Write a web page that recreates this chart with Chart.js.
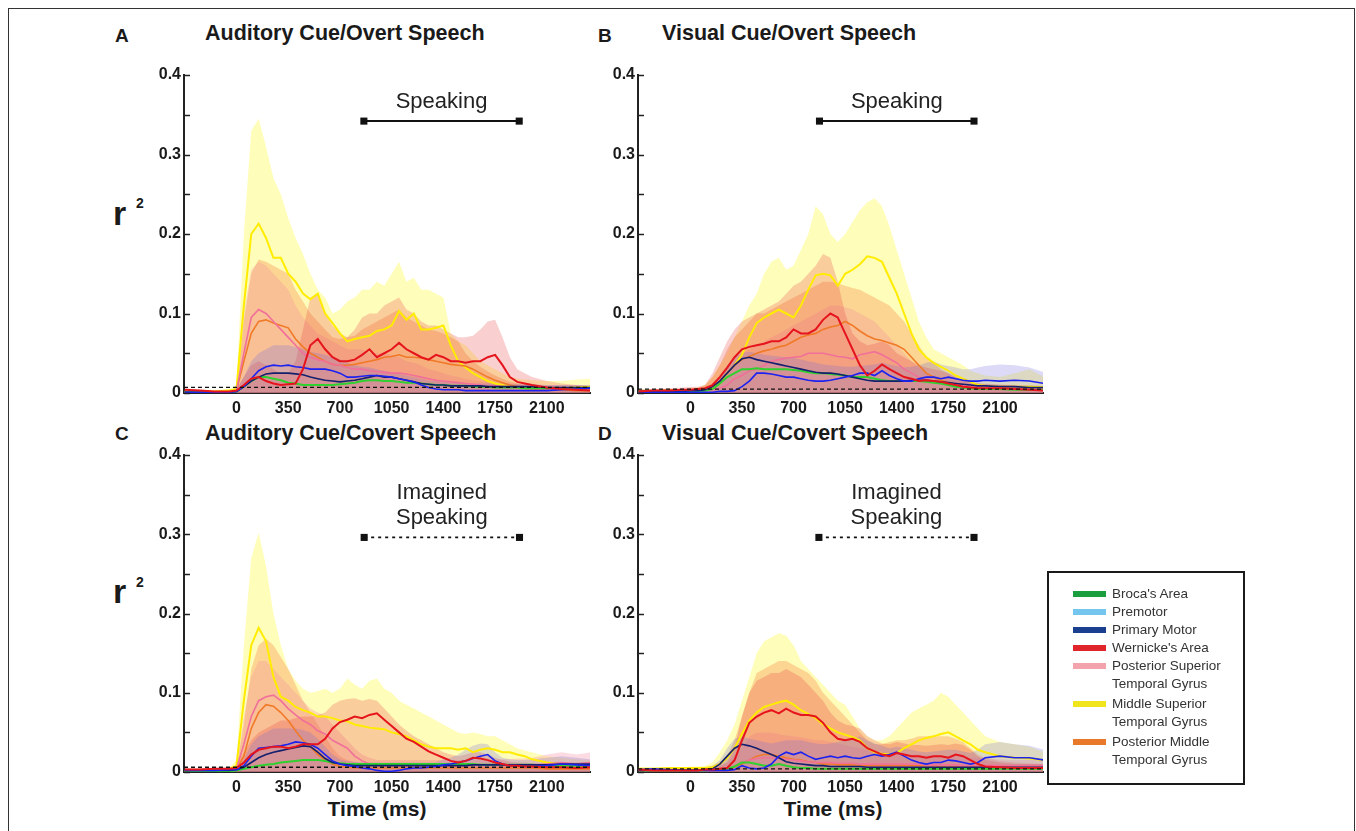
<!DOCTYPE html>
<html>
<head>
<meta charset="utf-8">
<script src="https://cdn.jsdelivr.net/npm/chart.js@4.4.0/dist/chart.umd.min.js"></script>
<style>
  html, body { margin: 0; padding: 0; background: #fff; }
  body { width: 1356px; height: 831px; position: relative; overflow: hidden;
         font-family: "Liberation Sans", Arial, sans-serif; color: #1a1a1a; }
  #frame { position: absolute; left: 8px; top: 8px; width: 1345px; height: 840px; border: 1px solid #333; }
  .txt { position: absolute; line-height: 1; white-space: nowrap; }
  .letter { font-weight: bold; font-size: 19px; }
  .title { font-weight: bold; font-size: 21.5px; }
  .rlab { font-weight: bold; font-size: 34px; }
  .rsup { font-weight: bold; font-size: 14px; }
  .xtitle { font-weight: bold; font-size: 21px; transform: translateX(-50%); }
  canvas { position: absolute; }
  #legend { position: absolute; left: 1047px; top: 571px; width: 194px; height: 198px;
            border: 2px solid #1a1a1a; padding-top: 12px; box-sizing: content-box; }
  .item { position: relative; padding-left: 63px; font-size: 13.5px; line-height: 18px; color: #333; margin-bottom: 0; }
  .item.multi { margin-bottom: 2px; }
  .sw { position: absolute; left: 24px; top: 6px; width: 33px; height: 6px; }
</style>
</head>
<body>
<div id="frame"></div>

<div class="txt letter" style="left:115px; top:26px;">A</div>
<div class="txt title" style="left:205px; top:23px;">Auditory Cue/Overt Speech</div>
<div class="txt letter" style="left:598px; top:26px;">B</div>
<div class="txt title" style="left:662px; top:23px;">Visual Cue/Overt Speech</div>
<div class="txt letter" style="left:115px; top:424px;">C</div>
<div class="txt title" style="left:205px; top:423px;">Auditory Cue/Covert Speech</div>
<div class="txt letter" style="left:598px; top:424px;">D</div>
<div class="txt title" style="left:662px; top:423px;">Visual Cue/Covert Speech</div>

<div class="txt rlab" style="left:113px; top:196px;">r</div>
<div class="txt rsup" style="left:136px; top:196px;">2</div>
<div class="txt rlab" style="left:113px; top:574px;">r</div>
<div class="txt rsup" style="left:136px; top:575px;">2</div>

<div class="txt xtitle" style="left:377px; top:798px;">Time (ms)</div>
<div class="txt xtitle" style="left:833px; top:798px;">Time (ms)</div>

<canvas id="cA" width="460" height="365" style="left:140px; top:60px;"></canvas>
<canvas id="cB" width="460" height="365" style="left:594px; top:60px;"></canvas>
<canvas id="cC" width="460" height="364" style="left:140px; top:440px;"></canvas>
<canvas id="cD" width="460" height="364" style="left:594px; top:440px;"></canvas>

<div id="legend"></div>

<script>
// time axis (ms) shared by all panels
const times = [-350,-250,-150,-50,
  0,50,100,150,200,250,300,350,400,450,
  500,550,600,650,700,750,800,850,900,950,
  1000,1050,1100,1150,1200,1250,1300,1350,1400,1450,
  1500,1550,1600,1650,1700,1750,1800,1850,1900,1950,
  2000,2100,2200,2300,2400];
const xTicks = [0, 350, 700, 1050, 1400, 1750, 2100];

const regionNames = ["Broca's Area", "Premotor", "Primary Motor", "Wernicke's Area",
  "Posterior Superior\nTemporal Gyrus", "Middle Superior\nTemporal Gyrus", "Posterior Middle\nTemporal Gyrus"];
const legendColors = ['#1b9e3e', '#74c6ee', '#1a3f8f', '#e0262a', '#f3a3ab', '#efe51a', '#e8782a'];

// ---- Panel A: auditory cue / overt speech ----
const aYellow = [0.002,0.002,0.002,0.003,
  0.005,0.11,0.2,0.213,0.195,0.17,0.17,0.15,0.14,0.125,
  0.118,0.125,0.1,0.088,0.075,0.065,0.068,0.07,0.072,0.078,
  0.08,0.085,0.103,0.092,0.1,0.08,0.08,0.082,0.085,0.06,
  0.04,0.032,0.025,0.02,0.015,0.012,0.01,0.008,0.007,0.006,
  0.006,0.005,0.006,0.007,0.008];
const aYellowHi = [0.004,0.004,0.004,0.005,
  0.01,0.2,0.33,0.345,0.31,0.27,0.25,0.22,0.195,0.175,
  0.15,0.13,0.12,0.1,0.105,0.115,0.12,0.13,0.13,0.14,
  0.135,0.15,0.165,0.14,0.145,0.13,0.13,0.125,0.12,0.075,
  0.065,0.06,0.05,0.04,0.035,0.03,0.025,0.02,0.018,0.017,
  0.016,0.015,0.015,0.017,0.018];
const aOrange = [0.001,0.001,0.001,0.001,
  0.003,0.04,0.075,0.09,0.092,0.088,0.085,0.082,0.068,0.058,
  0.05,0.045,0.04,0.036,0.035,0.035,0.036,0.038,0.04,0.042,
  0.045,0.046,0.048,0.045,0.045,0.044,0.042,0.04,0.038,0.036,
  0.035,0.034,0.03,0.025,0.02,0.016,0.013,0.01,0.008,0.006,
  0.005,0.004,0.004,0.003,0.003];
const aOrangeHi = [0.002,0.002,0.002,0.002,
  0.006,0.09,0.15,0.168,0.165,0.16,0.155,0.15,0.13,0.115,
  0.1,0.09,0.08,0.07,0.068,0.07,0.072,0.08,0.085,0.09,
  0.095,0.1,0.105,0.095,0.09,0.085,0.08,0.078,0.075,0.07,
  0.065,0.05,0.04,0.033,0.027,0.022,0.018,0.014,0.012,0.01,
  0.009,0.008,0.007,0.006,0.006];
const aPink = [0.001,0.001,0.001,0.001,
  0.003,0.05,0.095,0.105,0.1,0.09,0.08,0.07,0.06,0.05,
  0.045,0.042,0.04,0.036,0.035,0.032,0.03,0.03,0.028,0.027,
  0.026,0.025,0.025,0.024,0.022,0.02,0.018,0.016,0.015,0.014,
  0.013,0.012,0.011,0.01,0.009,0.009,0.008,0.008,0.007,0.006,
  0.006,0.005,0.005,0.005,0.005];
const aPinkHi = [0.002,0.002,0.002,0.002,
  0.008,0.1,0.155,0.165,0.16,0.15,0.14,0.13,0.11,0.095,
  0.085,0.075,0.07,0.065,0.06,0.055,0.055,0.055,0.05,0.05,
  0.05,0.048,0.045,0.04,0.038,0.035,0.03,0.028,0.025,0.022,
  0.02,0.018,0.016,0.015,0.014,0.013,0.012,0.012,0.011,0.011,
  0.01,0.01,0.01,0.01,0.01];
const aRed = [0.004,0.003,0.002,0.002,
  0.003,0.01,0.018,0.02,0.015,0.012,0.01,0.011,0.012,0.03,
  0.06,0.068,0.055,0.045,0.04,0.04,0.042,0.048,0.055,0.045,
  0.05,0.055,0.063,0.055,0.05,0.045,0.042,0.048,0.045,0.04,
  0.04,0.038,0.04,0.04,0.045,0.048,0.035,0.02,0.014,0.012,
  0.01,0.007,0.005,0.004,0.003];
const aRedHi = [0.006,0.004,0.003,0.003,
  0.005,0.02,0.035,0.04,0.035,0.03,0.025,0.025,0.04,0.08,
  0.12,0.125,0.1,0.085,0.075,0.07,0.08,0.095,0.1,0.1,
  0.11,0.115,0.12,0.105,0.1,0.09,0.085,0.085,0.08,0.075,
  0.07,0.07,0.072,0.08,0.09,0.092,0.07,0.045,0.03,0.025,
  0.02,0.015,0.012,0.01,0.008];
const aBlue = [0.001,0.001,0.001,0.001,
  0.002,0.008,0.018,0.028,0.033,0.035,0.034,0.035,0.033,0.032,
  0.03,0.03,0.03,0.028,0.025,0.02,0.02,0.021,0.022,0.022,
  0.021,0.02,0.018,0.016,0.014,0.01,0.007,0.005,0.004,0.004,
  0.004,0.003,0.003,0.003,0.003,0.003,0.003,0.003,0.003,0.003,
  0.003,0.003,0.004,0.005,0.006];
const aNavy = [0.001,0.001,0.001,0.001,
  0.002,0.008,0.015,0.02,0.024,0.025,0.025,0.025,0.024,0.023,
  0.02,0.018,0.016,0.015,0.014,0.015,0.016,0.018,0.02,0.022,
  0.02,0.02,0.018,0.016,0.014,0.012,0.011,0.01,0.01,0.009,
  0.009,0.009,0.009,0.009,0.008,0.008,0.008,0.008,0.008,0.008,
  0.008,0.007,0.007,0.007,0.007];
const aGreen = [0.001,0.001,0.001,0.001,
  0.002,0.008,0.015,0.02,0.02,0.018,0.016,0.013,0.012,0.01,
  0.01,0.01,0.01,0.01,0.011,0.012,0.013,0.015,0.016,0.016,
  0.015,0.015,0.014,0.013,0.013,0.012,0.011,0.01,0.01,0.009,
  0.009,0.009,0.008,0.008,0.008,0.007,0.007,0.007,0.007,0.006,
  0.006,0.006,0.006,0.006,0.006];
const aMotorHi = [0.003,0.003,0.003,0.003,
  0.005,0.02,0.04,0.05,0.055,0.06,0.06,0.06,0.058,0.055,
  0.052,0.05,0.048,0.045,0.042,0.038,0.035,0.033,0.032,0.03,
  0.028,0.026,0.024,0.022,0.02,0.018,0.016,0.015,0.014,0.013,
  0.013,0.012,0.012,0.012,0.012,0.012,0.011,0.011,0.011,0.011,
  0.011,0.01,0.01,0.01,0.01];

// ---- Panel B: visual cue / overt speech ----
const bYellow = [0.002,0.002,0.003,0.003,
  0.003,0.003,0.004,0.006,0.012,0.025,0.035,0.048,0.07,0.088,
  0.095,0.1,0.105,0.1,0.095,0.11,0.13,0.148,0.15,0.148,
  0.135,0.15,0.155,0.162,0.172,0.17,0.165,0.145,0.125,0.1,
  0.075,0.055,0.045,0.038,0.033,0.028,0.022,0.018,0.014,0.01,
  0.009,0.008,0.008,0.008,0.007];
const bYellowHi = [0.005,0.005,0.005,0.005,
  0.006,0.007,0.01,0.02,0.035,0.05,0.07,0.09,0.11,0.125,
  0.15,0.165,0.17,0.155,0.16,0.18,0.2,0.235,0.225,0.2,
  0.19,0.2,0.215,0.23,0.24,0.245,0.235,0.21,0.18,0.15,
  0.12,0.09,0.07,0.055,0.05,0.045,0.04,0.035,0.028,0.025,
  0.022,0.02,0.025,0.03,0.02];
const bOrange = [0.002,0.002,0.002,0.002,
  0.003,0.003,0.004,0.008,0.015,0.025,0.035,0.042,0.046,0.05,
  0.053,0.055,0.058,0.06,0.065,0.07,0.073,0.075,0.08,0.083,
  0.085,0.09,0.085,0.078,0.072,0.068,0.066,0.063,0.06,0.055,
  0.045,0.035,0.025,0.02,0.016,0.013,0.011,0.01,0.008,0.007,
  0.006,0.005,0.005,0.004,0.004];
const bOrangeHi = [0.004,0.004,0.004,0.004,
  0.005,0.006,0.01,0.02,0.035,0.055,0.07,0.08,0.09,0.1,
  0.1,0.105,0.11,0.115,0.12,0.125,0.13,0.135,0.14,0.14,
  0.138,0.135,0.132,0.13,0.125,0.12,0.115,0.11,0.1,0.09,
  0.075,0.06,0.045,0.038,0.03,0.025,0.02,0.016,0.014,0.012,
  0.011,0.01,0.01,0.009,0.008];
const bPink = [0.001,0.001,0.001,0.001,
  0.002,0.002,0.003,0.004,0.006,0.01,0.018,0.022,0.028,0.03,
  0.035,0.04,0.042,0.044,0.045,0.046,0.05,0.05,0.05,0.048,
  0.046,0.045,0.043,0.048,0.05,0.052,0.048,0.043,0.038,0.03,
  0.025,0.02,0.017,0.015,0.013,0.011,0.01,0.009,0.008,0.007,
  0.007,0.006,0.006,0.006,0.006];
const bPinkHi = [0.003,0.003,0.003,0.003,
  0.004,0.005,0.006,0.01,0.02,0.03,0.04,0.05,0.055,0.06,
  0.065,0.07,0.075,0.08,0.085,0.09,0.095,0.1,0.105,0.11,
  0.11,0.108,0.105,0.1,0.095,0.09,0.08,0.07,0.06,0.05,
  0.04,0.032,0.025,0.022,0.02,0.018,0.016,0.015,0.014,0.013,
  0.012,0.011,0.01,0.01,0.009];
const bRed = [0.002,0.003,0.003,0.004,
  0.004,0.005,0.006,0.01,0.02,0.032,0.045,0.055,0.058,0.06,
  0.062,0.065,0.065,0.07,0.08,0.075,0.075,0.08,0.092,0.1,
  0.095,0.075,0.055,0.035,0.022,0.028,0.036,0.03,0.025,0.02,
  0.018,0.015,0.016,0.015,0.014,0.012,0.01,0.008,0.007,0.006,
  0.006,0.006,0.005,0.004,0.003];
const bRedHi = [0.004,0.005,0.006,0.007,
  0.008,0.008,0.01,0.025,0.045,0.065,0.08,0.09,0.095,0.1,
  0.105,0.11,0.115,0.125,0.135,0.14,0.15,0.16,0.175,0.17,
  0.14,0.1,0.075,0.065,0.06,0.062,0.065,0.06,0.05,0.045,
  0.04,0.035,0.032,0.03,0.028,0.025,0.02,0.016,0.014,0.012,
  0.011,0.01,0.009,0.008,0.007];
const bBlue = [0.001,0.001,0.001,0.001,
  0.001,0.001,0.001,0.001,0.002,0.002,0.003,0.008,0.015,0.025,
  0.025,0.024,0.022,0.02,0.02,0.018,0.016,0.015,0.015,0.016,
  0.018,0.02,0.022,0.025,0.025,0.022,0.028,0.022,0.018,0.015,
  0.015,0.018,0.02,0.02,0.018,0.02,0.018,0.016,0.015,0.015,
  0.016,0.015,0.016,0.015,0.012];
const bNavy = [0.002,0.002,0.002,0.002,
  0.003,0.003,0.004,0.008,0.015,0.025,0.035,0.043,0.045,0.042,
  0.04,0.038,0.036,0.034,0.032,0.03,0.028,0.026,0.025,0.025,
  0.024,0.022,0.02,0.018,0.016,0.015,0.015,0.015,0.015,0.015,
  0.016,0.016,0.016,0.015,0.014,0.013,0.012,0.011,0.01,0.009,
  0.009,0.008,0.008,0.007,0.007];
const bGreen = [0.001,0.001,0.001,0.001,
  0.002,0.002,0.003,0.005,0.012,0.02,0.025,0.03,0.03,0.031,
  0.03,0.03,0.03,0.03,0.029,0.028,0.026,0.025,0.025,0.024,
  0.023,0.022,0.02,0.02,0.02,0.018,0.016,0.015,0.015,0.015,
  0.015,0.015,0.014,0.013,0.012,0.01,0.008,0.007,0.006,0.005,
  0.005,0.005,0.004,0.004,0.004];
const bMotorHi = [0.004,0.004,0.004,0.004,
  0.005,0.005,0.006,0.01,0.02,0.035,0.045,0.05,0.052,0.05,
  0.048,0.047,0.046,0.045,0.044,0.042,0.04,0.038,0.036,0.035,
  0.034,0.033,0.033,0.034,0.035,0.036,0.038,0.036,0.034,0.032,
  0.033,0.035,0.038,0.04,0.036,0.034,0.032,0.03,0.03,0.032,
  0.034,0.036,0.035,0.032,0.026];

// ---- Panel C: auditory cue / covert speech ----
const cYellow = [0.002,0.002,0.003,0.004,
  0.008,0.09,0.16,0.182,0.165,0.12,0.095,0.09,0.082,0.078,
  0.075,0.07,0.07,0.068,0.065,0.064,0.06,0.058,0.056,0.055,
  0.054,0.05,0.048,0.045,0.04,0.035,0.032,0.03,0.03,0.03,
  0.028,0.03,0.025,0.028,0.03,0.028,0.025,0.025,0.022,0.02,
  0.016,0.012,0.01,0.008,0.008];
const cYellowHi = [0.004,0.004,0.004,0.005,
  0.015,0.16,0.27,0.302,0.26,0.2,0.16,0.13,0.115,0.105,
  0.1,0.102,0.105,0.1,0.105,0.118,0.11,0.105,0.115,0.118,
  0.105,0.1,0.09,0.085,0.08,0.075,0.07,0.065,0.06,0.055,
  0.05,0.048,0.05,0.048,0.045,0.045,0.04,0.035,0.03,0.027,
  0.025,0.02,0.018,0.016,0.015];
const cOrange = [0.001,0.001,0.001,0.001,
  0.003,0.02,0.055,0.075,0.085,0.083,0.075,0.065,0.052,0.04,
  0.032,0.022,0.015,0.01,0.007,0.006,0.005,0.005,0.005,0.005,
  0.005,0.005,0.005,0.005,0.005,0.005,0.005,0.005,0.005,0.005,
  0.005,0.005,0.005,0.005,0.005,0.005,0.005,0.005,0.005,0.005,
  0.005,0.004,0.004,0.004,0.004];
const cOrangeHi = [0.002,0.002,0.002,0.002,
  0.005,0.06,0.13,0.16,0.168,0.16,0.145,0.13,0.11,0.09,
  0.075,0.06,0.045,0.03,0.02,0.015,0.012,0.01,0.01,0.01,
  0.01,0.01,0.01,0.01,0.01,0.01,0.01,0.01,0.01,0.01,
  0.01,0.01,0.01,0.01,0.01,0.009,0.009,0.009,0.009,0.009,
  0.008,0.008,0.008,0.008,0.008];
const cPink = [0.001,0.001,0.001,0.001,
  0.004,0.035,0.07,0.09,0.095,0.097,0.09,0.08,0.072,0.065,
  0.06,0.052,0.048,0.04,0.035,0.03,0.02,0.014,0.01,0.009,
  0.008,0.008,0.008,0.008,0.008,0.008,0.008,0.008,0.008,0.008,
  0.008,0.008,0.008,0.008,0.008,0.008,0.008,0.008,0.008,0.008,
  0.008,0.01,0.012,0.01,0.012];
const cPinkHi = [0.003,0.003,0.003,0.003,
  0.008,0.07,0.12,0.14,0.14,0.13,0.12,0.11,0.1,0.09,
  0.08,0.075,0.07,0.06,0.05,0.04,0.03,0.022,0.018,0.015,
  0.015,0.015,0.015,0.015,0.015,0.015,0.015,0.015,0.015,0.015,
  0.015,0.015,0.015,0.015,0.015,0.015,0.016,0.016,0.017,0.017,
  0.018,0.022,0.025,0.022,0.025];
const cRed = [0.003,0.003,0.004,0.004,
  0.005,0.012,0.022,0.028,0.03,0.032,0.032,0.03,0.032,0.035,
  0.035,0.035,0.042,0.055,0.063,0.066,0.07,0.068,0.072,0.074,
  0.066,0.058,0.05,0.042,0.038,0.032,0.026,0.022,0.018,0.014,
  0.012,0.014,0.018,0.017,0.015,0.012,0.01,0.008,0.008,0.007,
  0.007,0.006,0.006,0.005,0.006];
const cRedHi = [0.005,0.005,0.005,0.005,
  0.008,0.025,0.04,0.05,0.055,0.06,0.065,0.065,0.068,0.07,
  0.07,0.072,0.075,0.085,0.09,0.092,0.093,0.09,0.092,0.09,
  0.08,0.07,0.06,0.052,0.045,0.04,0.035,0.03,0.025,0.022,
  0.02,0.022,0.025,0.025,0.022,0.018,0.015,0.013,0.012,0.012,
  0.011,0.011,0.012,0.012,0.013];
const cBlue = [0.002,0.002,0.002,0.003,
  0.003,0.008,0.02,0.03,0.031,0.032,0.033,0.035,0.038,0.037,
  0.035,0.03,0.022,0.014,0.01,0.008,0.007,0.005,0.004,0.002,
  0.001,0.001,0.002,0.004,0.005,0.005,0.006,0.007,0.009,0.01,
  0.012,0.014,0.017,0.02,0.022,0.014,0.01,0.008,0.008,0.007,
  0.007,0.008,0.01,0.009,0.008];
const cNavy = [0.002,0.002,0.002,0.002,
  0.003,0.006,0.012,0.018,0.022,0.025,0.027,0.029,0.031,0.033,
  0.032,0.025,0.017,0.012,0.01,0.009,0.008,0.008,0.008,0.008,
  0.008,0.008,0.008,0.008,0.008,0.008,0.008,0.008,0.008,0.008,
  0.008,0.008,0.009,0.009,0.009,0.009,0.009,0.009,0.009,0.009,
  0.009,0.009,0.01,0.01,0.01];
const cGreen = [0.001,0.001,0.001,0.001,
  0.002,0.004,0.006,0.008,0.009,0.01,0.012,0.013,0.014,0.015,
  0.015,0.015,0.014,0.012,0.011,0.01,0.01,0.01,0.01,0.01,
  0.01,0.01,0.01,0.01,0.01,0.01,0.01,0.01,0.01,0.01,
  0.01,0.01,0.01,0.009,0.009,0.009,0.009,0.009,0.009,0.009,
  0.009,0.008,0.008,0.008,0.008];
const cMotorHi = [0.003,0.003,0.003,0.003,
  0.005,0.015,0.035,0.045,0.05,0.055,0.055,0.055,0.055,0.053,
  0.05,0.042,0.032,0.022,0.016,0.014,0.013,0.012,0.012,0.012,
  0.012,0.012,0.012,0.012,0.012,0.012,0.012,0.012,0.016,0.018,
  0.022,0.028,0.033,0.036,0.035,0.025,0.018,0.016,0.015,0.015,
  0.016,0.018,0.02,0.018,0.016];

// ---- Panel D: visual cue / covert speech ----
const dYellow = [0.004,0.004,0.005,0.005,
  0.005,0.005,0.005,0.006,0.01,0.018,0.03,0.048,0.065,0.075,
  0.082,0.085,0.088,0.09,0.085,0.078,0.073,0.068,0.06,0.055,
  0.05,0.047,0.044,0.04,0.03,0.025,0.023,0.022,0.024,0.03,
  0.035,0.04,0.043,0.045,0.048,0.05,0.045,0.04,0.035,0.028,
  0.025,0.02,0.018,0.017,0.015];
const dYellowHi = [0.006,0.006,0.006,0.006,
  0.007,0.007,0.008,0.012,0.025,0.04,0.06,0.09,0.12,0.15,
  0.165,0.17,0.175,0.172,0.16,0.14,0.13,0.12,0.11,0.1,
  0.09,0.085,0.07,0.055,0.045,0.04,0.04,0.045,0.055,0.065,
  0.075,0.08,0.085,0.09,0.1,0.095,0.085,0.075,0.065,0.055,
  0.045,0.038,0.035,0.032,0.025];
const dOrange = [0.002,0.002,0.002,0.002,
  0.002,0.002,0.002,0.003,0.003,0.004,0.006,0.01,0.015,0.02,
  0.022,0.022,0.02,0.018,0.016,0.015,0.013,0.012,0.01,0.01,
  0.009,0.009,0.009,0.008,0.008,0.008,0.008,0.008,0.008,0.008,
  0.008,0.008,0.008,0.008,0.007,0.007,0.007,0.007,0.007,0.007,
  0.006,0.006,0.006,0.006,0.006];
const dOrangeHi = [0.004,0.004,0.004,0.004,
  0.005,0.005,0.006,0.008,0.012,0.02,0.04,0.07,0.1,0.125,
  0.13,0.135,0.14,0.14,0.135,0.13,0.125,0.115,0.1,0.09,
  0.08,0.07,0.06,0.05,0.04,0.035,0.035,0.038,0.04,0.04,
  0.042,0.045,0.045,0.045,0.045,0.045,0.042,0.038,0.03,0.022,
  0.018,0.014,0.012,0.011,0.01];
const dPink = [0.002,0.002,0.002,0.002,
  0.002,0.002,0.002,0.003,0.004,0.005,0.008,0.012,0.015,0.017,
  0.018,0.018,0.017,0.016,0.015,0.014,0.013,0.012,0.012,0.012,
  0.011,0.011,0.011,0.01,0.01,0.01,0.01,0.01,0.01,0.01,
  0.01,0.01,0.009,0.009,0.009,0.009,0.009,0.008,0.008,0.008,
  0.008,0.008,0.008,0.008,0.008];
const dPinkHi = [0.003,0.003,0.003,0.003,
  0.004,0.004,0.005,0.006,0.008,0.012,0.02,0.03,0.045,0.05,
  0.05,0.05,0.048,0.046,0.045,0.044,0.042,0.04,0.04,0.038,
  0.036,0.034,0.032,0.03,0.028,0.026,0.025,0.024,0.024,0.023,
  0.022,0.022,0.021,0.021,0.02,0.02,0.02,0.019,0.018,0.018,
  0.017,0.016,0.015,0.015,0.015];
const dRed = [0.003,0.002,0.002,0.002,
  0.002,0.002,0.003,0.003,0.004,0.005,0.015,0.04,0.062,0.07,
  0.075,0.078,0.074,0.08,0.075,0.072,0.072,0.07,0.062,0.05,
  0.042,0.04,0.042,0.038,0.03,0.026,0.022,0.02,0.024,0.022,
  0.02,0.02,0.018,0.02,0.02,0.018,0.022,0.02,0.015,0.01,
  0.007,0.006,0.005,0.005,0.005];
const dRedHi = [0.004,0.004,0.004,0.004,
  0.004,0.004,0.005,0.006,0.008,0.012,0.03,0.07,0.1,0.115,
  0.12,0.125,0.125,0.13,0.125,0.12,0.11,0.1,0.09,0.075,
  0.065,0.06,0.058,0.055,0.045,0.04,0.036,0.035,0.038,0.036,
  0.034,0.034,0.033,0.034,0.035,0.034,0.036,0.034,0.028,0.02,
  0.015,0.012,0.01,0.01,0.01];
const dBlue = [0.003,0.004,0.003,0.002,
  0.002,0.002,0.002,0.002,0.002,0.002,0.003,0.008,0.005,0.004,
  0.005,0.01,0.02,0.025,0.022,0.025,0.02,0.016,0.018,0.02,
  0.018,0.02,0.018,0.017,0.02,0.022,0.02,0.022,0.025,0.02,
  0.015,0.012,0.01,0.012,0.012,0.015,0.014,0.012,0.01,0.012,
  0.018,0.02,0.018,0.018,0.015];
const dNavy = [0.002,0.002,0.002,0.002,
  0.002,0.002,0.003,0.004,0.01,0.02,0.03,0.035,0.033,0.03,
  0.026,0.022,0.018,0.013,0.011,0.01,0.009,0.008,0.008,0.007,
  0.007,0.007,0.007,0.007,0.006,0.006,0.006,0.006,0.006,0.006,
  0.006,0.006,0.006,0.006,0.006,0.006,0.006,0.006,0.006,0.006,
  0.006,0.006,0.006,0.006,0.006];
const dGreen = [0.002,0.002,0.002,0.002,
  0.002,0.002,0.002,0.003,0.003,0.004,0.007,0.012,0.012,0.01,
  0.008,0.008,0.01,0.008,0.006,0.005,0.005,0.004,0.004,0.004,
  0.004,0.004,0.004,0.004,0.004,0.004,0.004,0.004,0.004,0.004,
  0.004,0.004,0.004,0.004,0.004,0.004,0.004,0.004,0.004,0.004,
  0.004,0.004,0.004,0.004,0.004];
const dMotorHi = [0.004,0.004,0.004,0.004,
  0.004,0.004,0.005,0.008,0.015,0.03,0.042,0.045,0.042,0.04,
  0.038,0.036,0.038,0.04,0.04,0.04,0.038,0.036,0.035,0.036,
  0.038,0.04,0.042,0.045,0.04,0.036,0.033,0.03,0.032,0.03,
  0.028,0.026,0.025,0.026,0.027,0.028,0.028,0.026,0.024,0.028,
  0.035,0.038,0.035,0.033,0.028];

// speaking period bars [start ms, end ms] and their r2 height; significance thresholds
const speakA = [862, 1913], speakB = [876, 1924], speakC = [864, 1915], speakD = [872, 1924];
const speakYOvert = 0.342, speakYCovert = 0.296;
const thresholds = { A: 0.007, B: 0.005, C: 0.006, D: 0.004 };

// styles
const lineStyle = {
  yellow: { color: '#ffec00', width: 2 },
  orange: { color: '#f07a28', width: 1.6 },
  pink:   { color: '#f0709a', width: 1.6 },
  red:    { color: '#e6141c', width: 2 },
  blue:   { color: '#1c22f0', width: 1.6 },
  navy:   { color: '#14206e', width: 1.6 },
  green:  { color: '#2fd02f', width: 2 }
};
const bandStyle = {
  yellow: 'rgba(255,250,90,0.42)',
  orange: 'rgba(242,130,60,0.33)',
  pink:   'rgba(245,140,160,0.30)',
  red:    'rgba(232,70,70,0.26)',
  motor:  'rgba(110,100,220,0.24)'
};

Chart.defaults.font.family = '"Liberation Sans", Arial, sans-serif';
Chart.defaults.color = '#1a1a1a';

const pts = arr => times.map((t, i) => ({ x: t, y: arr[i] }));

const insideTicks = {
  id: 'insideTicks',
  afterDraw(chart) {
    const { ctx, chartArea, scales: { y } } = chart;
    ctx.save();
    ctx.strokeStyle = '#222';
    ctx.lineWidth = 1.5;
    y.ticks.forEach(t => {
      const py = Math.round(y.getPixelForValue(t.value)) + 0.5;
      ctx.beginPath();
      ctx.moveTo(chartArea.left, py);
      ctx.lineTo(chartArea.left + 6, py);
      ctx.stroke();
    });
    ctx.restore();
  }
};

const speakText = {
  id: 'speakText',
  afterDatasetsDraw(chart, args, opts) {
    const { ctx, scales: { x, y } } = chart;
    const cx = x.getPixelForValue((opts.range[0] + opts.range[1]) / 2);
    const by = y.getPixelForValue(opts.y);
    ctx.save();
    ctx.font = '22px "Liberation Sans", Arial, sans-serif';
    ctx.fillStyle = '#222';
    ctx.textAlign = 'center';
    ctx.textBaseline = 'middle';
    const n = opts.lines.length;
    opts.lines.forEach((s, i) => {
      ctx.fillText(s, cx, by - 19 - (n - 1 - i) * 25.5);
    });
    ctx.restore();
  }
};

function makePanel(id, p) {
  const datasets = [];
  const bandOrder = ['yellow', 'orange', 'pink', 'red', 'motor'];
  bandOrder.forEach((k, i) => {
    datasets.push({
      data: pts(p.bands[k]), fill: 'origin', backgroundColor: bandStyle[k],
      borderWidth: 0, pointRadius: 0, order: 20 - i
    });
  });
  const lineOrder = ['yellow', 'orange', 'pink', 'green', 'navy', 'blue', 'red'];
  lineOrder.forEach((k, i) => {
    datasets.push({
      data: pts(p.lines[k]), fill: false, borderColor: lineStyle[k].color,
      borderWidth: lineStyle[k].width, pointRadius: 0, order: 10 - i
    });
  });
  // significance threshold
  datasets.push({
    data: [{ x: -355, y: p.thr }, { x: 2392, y: p.thr }], borderColor: '#111',
    borderWidth: 1.3, borderDash: [4, 3], pointRadius: 0, fill: false, order: 1
  });
  // speaking period bar
  datasets.push({
    data: [{ x: p.speak[0], y: p.speakY }, { x: p.speak[1], y: p.speakY }],
    borderColor: '#111', borderWidth: p.dotted ? 1.6 : 2, borderDash: p.dotted ? [3, 4] : [],
    pointStyle: 'rect', pointRadius: 5, pointBackgroundColor: '#111', pointBorderColor: '#111',
    pointBorderWidth: 0, fill: false, order: 0
  });

  new Chart(document.getElementById(id), {
    type: 'line',
    data: { datasets },
    plugins: [insideTicks, speakText],
    options: {
      responsive: false, animation: false, devicePixelRatio: 1,
      layout: { padding: { top: 15, right: p.padRight, left: 0, bottom: 0 } },
      plugins: {
        legend: { display: false }, tooltip: { enabled: false },
        speakText: { range: p.speak, y: p.speakY, lines: p.label }
      },
      elements: { line: { tension: 0 } },
      scales: {
        x: {
          type: 'linear', min: -355, max: 2392,
          grid: { display: false, drawTicks: false },
          border: { display: true, color: '#222', width: 2 },
          afterBuildTicks: s => { s.ticks = xTicks.map(v => ({ value: v })); },
          afterFit: s => { s.height = 32; },
          ticks: { autoSkip: false, maxRotation: 0, padding: 6, color: '#1a1a1a',
                   font: { size: 16, weight: 'bold' },
                   callback: v => String(v) }
        },
        y: {
          min: 0, max: 0.4,
          grid: { display: false, drawTicks: false },
          border: { display: true, color: '#222', width: 2 },
          afterFit: s => { s.width = 44; },
          ticks: {
            stepSize: 0.05, autoSkip: false, padding: 3, color: '#1a1a1a',
            font: { size: 16, weight: 'bold' },
            callback: v => {
              const r = Math.round(v * 100);
              if (r % 10 !== 0) return '';
              return r === 0 ? '0' : (r / 100).toFixed(1);
            }
          }
        }
      }
    }
  });
}

makePanel('cA', {
  lines: { yellow: aYellow, orange: aOrange, pink: aPink, red: aRed, blue: aBlue, navy: aNavy, green: aGreen },
  bands: { yellow: aYellowHi, orange: aOrangeHi, pink: aPinkHi, red: aRedHi, motor: aMotorHi },
  thr: thresholds.A, speak: speakA, speakY: speakYOvert, label: ['Speaking'], dotted: false, padRight: 10
});
makePanel('cB', {
  lines: { yellow: bYellow, orange: bOrange, pink: bPink, red: bRed, blue: bBlue, navy: bNavy, green: bGreen },
  bands: { yellow: bYellowHi, orange: bOrangeHi, pink: bPinkHi, red: bRedHi, motor: bMotorHi },
  thr: thresholds.B, speak: speakB, speakY: speakYOvert, label: ['Speaking'], dotted: false, padRight: 11
});
makePanel('cC', {
  lines: { yellow: cYellow, orange: cOrange, pink: cPink, red: cRed, blue: cBlue, navy: cNavy, green: cGreen },
  bands: { yellow: cYellowHi, orange: cOrangeHi, pink: cPinkHi, red: cRedHi, motor: cMotorHi },
  thr: thresholds.C, speak: speakC, speakY: speakYCovert, label: ['Imagined', 'Speaking'], dotted: true, padRight: 10
});
makePanel('cD', {
  lines: { yellow: dYellow, orange: dOrange, pink: dPink, red: dRed, blue: dBlue, navy: dNavy, green: dGreen },
  bands: { yellow: dYellowHi, orange: dOrangeHi, pink: dPinkHi, red: dRedHi, motor: dMotorHi },
  thr: thresholds.D, speak: speakD, speakY: speakYCovert, label: ['Imagined', 'Speaking'], dotted: true, padRight: 11
});

// legend box
const legend = document.getElementById('legend');
regionNames.forEach((name, i) => {
  const parts = name.split('\n');
  const item = document.createElement('div');
  item.className = 'item' + (parts.length > 1 ? ' multi' : '');
  const sw = document.createElement('div');
  sw.className = 'sw';
  sw.style.background = legendColors[i];
  item.appendChild(sw);
  parts.forEach((t, j) => {
    if (j) item.appendChild(document.createElement('br'));
    item.appendChild(document.createTextNode(t));
  });
  legend.appendChild(item);
});
</script>
</body>
</html>
